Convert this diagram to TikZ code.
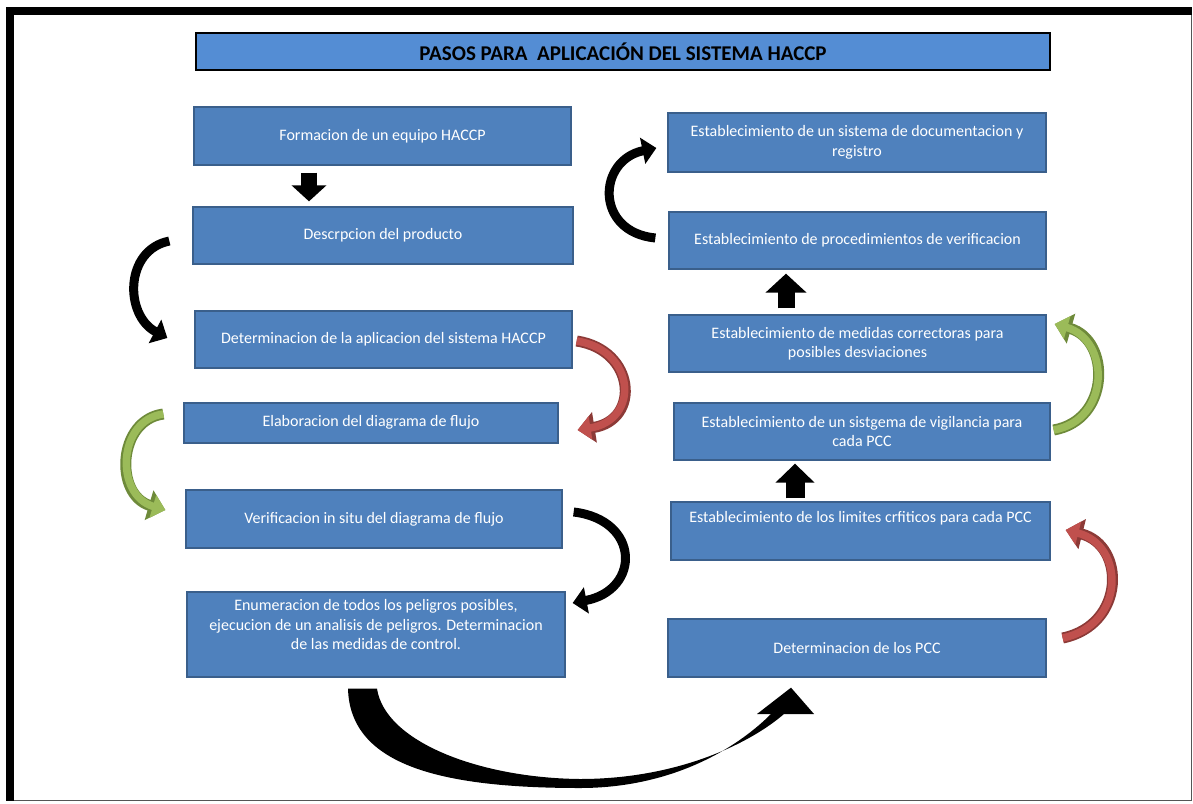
\documentclass[tikz,border=0pt]{standalone}
\usepackage{fontspec}
\setmainfont{Carlito}
\usetikzlibrary{arrows.meta,calc}
\definecolor{boxblue}{HTML}{4F81BD}
\definecolor{boxedge}{HTML}{3A5F8B}
\definecolor{titleblue}{HTML}{548DD4}
\definecolor{redA}{HTML}{C0504D}
\definecolor{redB}{HTML}{8C3A37}
\definecolor{grnA}{HTML}{9BBB59}
\definecolor{grnB}{HTML}{6E8A3A}
\definecolor{frameedge}{HTML}{555555}
\begin{document}
\begin{tikzpicture}[x=1pt,y=-1pt,
  stepbox/.style={draw=boxedge, fill=boxblue, line width=1.3pt, text=white,
    align=center, inner sep=0pt, font=\fontsize{16}{19.5}\selectfont},
  titlebox/.style={draw=black, fill=titleblue, line width=2.5pt, text=black,
    inner sep=0pt, font=\fontsize{21}{23}\selectfont\bfseries},
  blkcurve/.style={draw=black, line width=9pt, -{Triangle[length=14pt,width=26pt]}},
  outercurve/.style={draw=#1, line width=11pt, -{Triangle[length=17pt,width=30pt]}},
  innercurve/.style={draw=#1, line width=7.5pt, -{Triangle[length=13pt,width=23pt]}}
]
\useasboundingbox (0,0) rectangle (1193,803);
\fill[white] (0,0) rectangle (1193,803);

% page frame: heavy top and left edges, thin right and bottom edges
\draw[frameedge, line width=1.5pt] (14,800.5) -- (1191.5,800.5) -- (1191.5,15);
\fill[black] (6,7) rectangle (1192,15);
\fill[black] (6,7) rectangle (14,801);

% title
\node[titlebox, minimum width=854pt, minimum height=37pt] (T) at (623,51.5)
  {PASOS PARA \ APLICACIÓN DEL SISTEMA HACCP};

% left column
\node[stepbox, minimum width=377pt, minimum height=58pt] (L1) at (382.5,136)
  {Formacion de un equipo HACCP};
\node[stepbox, minimum width=380pt, minimum height=57pt] (L2) at (383,235.5)
  {Descrpcion del producto};
\node[stepbox, minimum width=377pt, minimum height=57pt] (L3) at (383.5,339.5)
  {Determinacion de la aplicacion del sistema HACCP};
\node[stepbox, minimum width=374pt, minimum height=40pt] (L4) at (371,423)
  {\raisebox{4pt}{Elaboracion del diagrama de flujo}};
\node[stepbox, minimum width=376pt, minimum height=58pt] (L5) at (374,519)
  {Verificacion in situ del diagrama de flujo};
\node[stepbox, minimum width=378pt, minimum height=85pt] (L6) at (376,634.5)
  {Enumeracion de todos los peligros posibles,\\
   ejecucion de un analisis de peligros. Determinacion\\
   de las medidas de control.\\ \mbox{}};

% right column
\node[stepbox, minimum width=378pt, minimum height=59pt] (R1) at (857,142.5)
  {Establecimiento de un sistema de documentacion y\\ registro};
\node[stepbox, minimum width=377pt, minimum height=57pt] (R2) at (857.5,240.5)
  {Establecimiento de procedimientos de verificacion};
\node[stepbox, minimum width=377pt, minimum height=57pt] (R3) at (857.5,343.5)
  {Establecimiento de medidas correctoras para\\ posibles desviaciones};
\node[stepbox, minimum width=376pt, minimum height=57pt] (R4) at (862,431.5)
  {Establecimiento de un sistgema de vigilancia para\\ cada PCC};
\node[stepbox, minimum width=379pt, minimum height=58pt] (R5) at (860.5,531)
  {Establecimiento de los limites crfiticos para cada PCC\\[9pt] \mbox{}};
\node[stepbox, minimum width=378pt, minimum height=58pt] (R6) at (857,648)
  {Determinacion de los PCC};

% straight block arrows
\draw[line width=16pt, -{Triangle[length=16pt,width=34pt]}]
  ($(L1.south)+(-73.5,7)$) -- ($(L2.north)+(-74,-5)$);
\draw[line width=17pt, -{Triangle[length=19pt,width=40pt]}]
  ($(R3.north)+(-71.5,-6)$) -- ($(R2.south)+(-71.5,4)$);
\draw[line width=19pt, -{Triangle[length=19pt,width=38pt]}]
  ($(R5.north)+(-65.5,-3)$) -- ($(R4.south)+(-67,3)$);

% curved arrows down the left column
\draw[blkcurve] ($(L2.west)+(-23,5.5)$) .. controls +(-45,9) and +(-43,-23) .. ($(L3.west)+(-27,-1.5)$);
\draw[outercurve=redB] ($(L3.east)+(4,1.5)$) .. controls +(59,9) and +(63,-10) .. ($(L4.east)+(19,7)$);
\draw[innercurve=redA] ($(L3.east)+(4,1.5)$) .. controls +(59,9) and +(63,-10) .. ($(L4.east)+(19,7)$);
\draw[outercurve=grnB] ($(L4.west)+(-20,-9)$) .. controls +(-46,6) and +(-51,-15) .. ($(L5.west)+(-20,-9)$);
\draw[innercurve=grnA] ($(L4.west)+(-20,-9)$) .. controls +(-46,6) and +(-51,-15) .. ($(L5.west)+(-20,-9)$);
\draw[blkcurve] ($(L5.east)+(11,-7)$) .. controls +(67,8) and +(68,-13) .. ($(L6.east)+(7,-31.5)$);

% curved arrows up the right column
\draw[outercurve=redB] ($(R6.east)+(16,-10)$) .. controls +(63,-13) and +(60,15) .. ($(R5.east)+(15,-1)$);
\draw[innercurve=redA] ($(R6.east)+(16,-10)$) .. controls +(63,-13) and +(60,15) .. ($(R5.east)+(15,-1)$);
\draw[outercurve=grnB] ($(R4.east)+(3,-1.5)$) .. controls +(57,-10) and +(56,16) .. ($(R3.east)+(8,-19.5)$);
\draw[innercurve=grnA] ($(R4.east)+(3,-1.5)$) .. controls +(57,-10) and +(56,16) .. ($(R3.east)+(8,-19.5)$);
\draw[blkcurve] ($(R2.west)+(-13,-2.5)$) .. controls +(-61,-6) and +(-59,12) .. ($(R1.west)+(-11,5.5)$);

% tapered arc from the last left step to the first right step
\coordinate (e0) at ($(L6.south)+(-28,11)$);
\coordinate (e1) at ($(R6.south)+(-66,10)$);
\fill[black] (e0) -- ++(29,0)
  .. controls (385,742) and (480,778) .. (580,779)
  .. controls (675,779) and (748,745) .. (784,714)
  -- (814,714) -- (e1) -- (757,714) -- (771,714)
  .. controls (735,750) and (670,788) .. (580,788)
  .. controls (440,788) and (350,765) .. (e0) -- cycle;
\end{tikzpicture}
\end{document}
